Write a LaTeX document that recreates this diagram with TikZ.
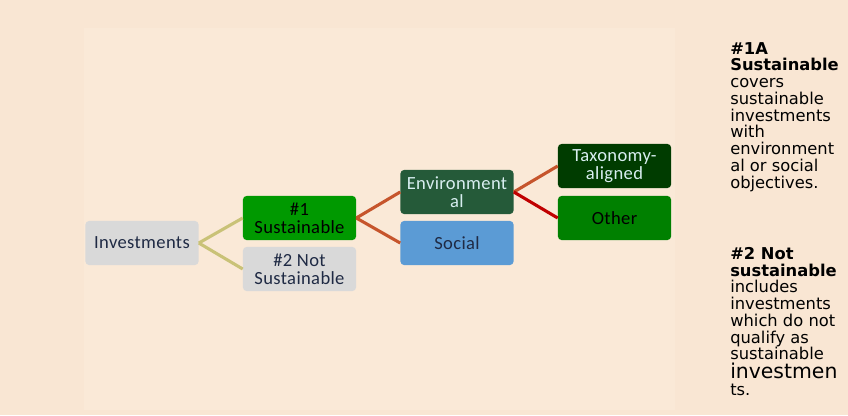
\documentclass[tikz,border=0pt]{standalone}
\usepackage{fontspec}
\setmainfont{Carlito}[LetterSpace=2]
\newfontfamily\notefont{DejaVu Sans}
\definecolor{pagebg}{HTML}{F9E6D3}
\definecolor{innerbg}{HTML}{FAE9D7}
\definecolor{boxgray}{HTML}{D9D9D9}
\definecolor{boxtext}{HTML}{1F2A44}
\definecolor{sustgreen}{HTML}{009900}
\definecolor{envgreen}{HTML}{255A39}
\definecolor{envtext}{HTML}{D8EEF0}
\definecolor{taxgreen}{HTML}{003C00}
\definecolor{othergreen}{HTML}{008000}
\definecolor{socialblue}{HTML}{5B9BD5}
\definecolor{khaki}{HTML}{C9C277}
\definecolor{rust}{HTML}{C6552C}
\definecolor{deepred}{HTML}{C00000}
\tikzset{
	catbox/.style={rounded corners=2.5pt, minimum width=2.825cm, minimum height=1.1cm,
		inner sep=0pt, align=center, font=\fontsize{13.2}{13}\selectfont},
	branch/.style={line width=2.2pt},
	note/.style={anchor=north west, inner sep=0pt, align=left, text=black,
		font=\notefont\fontsize{11.6}{11.9}\selectfont}
}
\begin{document}
\begin{tikzpicture}[x=0.025cm, y=-0.025cm]
	\fill [pagebg] (0,0) rectangle (848,415);
	\useasboundingbox (0,0) rectangle (848,415);
	\fill [innerbg] (84,28) rectangle (675,410);
	% boxes
	\node [catbox, fill=boxgray, text=boxtext] (inv) at (142,243) {Investments};
	\node [catbox, fill=sustgreen, text=black] (sust) at (299.5,218) {\#1\\Sustainable};
	\node [catbox, fill=boxgray, text=boxtext] (notsust) at (299.5,269) {\#2 Not\\Sustainable};
	\node [catbox, fill=envgreen, text=envtext] (env) at (457,192) {Environment\\al};
	\node [catbox, fill=socialblue, text=boxtext] (soc) at (457,243) {Social};
	\node [catbox, fill=taxgreen, text=envtext] (tax) at (614.5,166) {Taxonomy-\\aligned};
	\node [catbox, fill=othergreen, text=black] (oth) at (614.5,218) {Other};
	% branches
	\draw [branch, khaki] (inv.east) -- (sust.west);
	\draw [branch, khaki] (inv.east) -- (notsust.west);
	\draw [branch, rust] (sust.east) -- (env.west);
	\draw [branch, rust] (sust.east) -- (soc.west);
	\draw [branch, rust] (env.east) -- (tax.west);
	\draw [branch, deepred] (env.east) -- (oth.west);
	% notes
	\node [note] (noteA) at (730,42) {\textbf{\#1A}\\\textbf{Sustainable}\\covers\\sustainable\\investments\\with\\environment\\al or social\\objectives.};
	\node [note] (noteB) at (730,247) {\textbf{\#2 Not}\\\textbf{sustainable}\\includes\\investments\\which do not\\qualify as\\sustainable\\[1.5pt]\fontsize{14.5}{12.5}\selectfont investmen\\ts.};
\end{tikzpicture}
\end{document}
